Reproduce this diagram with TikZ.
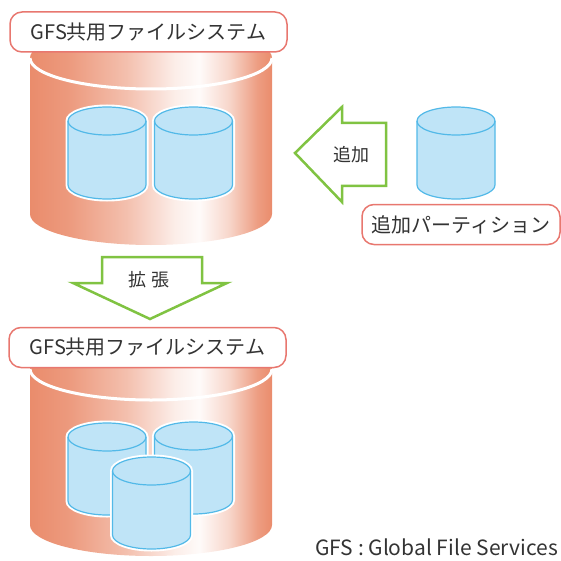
\documentclass[tikz,border=0pt]{standalone}
\usepackage{fontspec}
\setmainfont{Noto Sans CJK JP}
\usepackage{tikz}

\definecolor{fssalmon}{HTML}{EA8C6C}
\definecolor{labelred}{HTML}{E8776F}
\definecolor{arrowgreen}{HTML}{80C342}
\definecolor{diskfill}{HTML}{BFE4F7}
\definecolor{diskline}{HTML}{52B9E8}
\definecolor{textgray}{HTML}{333333}
\colorlet{fsA}{fssalmon!88!white}
\colorlet{fsB}{fssalmon!55!white}
\colorlet{fsC}{fssalmon!15!white}
\colorlet{fsD}{fssalmon!4!white}
\colorlet{fsE}{fssalmon!35!white}
\colorlet{fsF}{fssalmon!85!white}

% body of the file system drum: pale band right of the middle
\pgfdeclarehorizontalshading{fsbody}{100bp}{color(0bp)=(fssalmon); color(25bp)=(fssalmon);
  color(33bp)=(fsA); color(45bp)=(fsB); color(55bp)=(fsC); color(60bp)=(fsD);
  color(66bp)=(fsE); color(72bp)=(fsF); color(75bp)=(fssalmon); color(100bp)=(fssalmon)}

\tikzset{
  % drum outline, centred on the pic origin (y grows downwards)
  fsdrum/.pic={
    \path[shade, shading=fsbody] (-121,-78) -- (-121,78)
      arc[start angle=180, end angle=360, x radius=121pt, y radius=31pt] -- (121,-78)
      arc[start angle=0, end angle=180, x radius=121pt, y radius=31pt] -- cycle;
    \draw[white, line width=3pt] (-121,-78)
      arc[start angle=180, end angle=360, x radius=121pt, y radius=31pt];
  },
  disk/.pic={
    \draw[diskline, fill=diskfill, line width=1.2pt, preaction={draw=white, line width=5pt}]
      (-39,-32) -- (-39,32)
      arc[start angle=180, end angle=360, x radius=39pt, y radius=14pt] -- (39,-32)
      arc[start angle=0, end angle=180, x radius=39pt, y radius=14pt] -- cycle;
    \draw[diskline, line width=1.2pt] (-39,-32)
      arc[start angle=180, end angle=360, x radius=39pt, y radius=14pt];
  }
}

\begin{document}
\begin{tikzpicture}[
  x=1pt, y=-1pt,
  fslabel/.style={draw=labelred, fill=white, line width=1.5pt, rounded corners=12pt,
    minimum width=277pt, minimum height=40pt, font=\fontsize{20}{20}\selectfont, text=textgray},
  blockarrow/.style={draw=arrowgreen, fill=white, line width=2.5pt, line join=miter},
  arrowtext/.style={font=\fontsize{18}{18}\selectfont, text=textgray}
]
  \useasboundingbox (0,0) rectangle (561,561);

  % before
  \pic (fsTop) at (151,136) {fsdrum};
  \pic (diskA) at (107,153) {disk};
  \pic (diskB) at (193.5,153) {disk};
  \node[fslabel] (topLabel) at (148.5,32) {GFS共用ファイルシステム};

  % partition to add
  \pic (newDisk) at (456,153) {disk};
  \node[fslabel, minimum width=198pt] (newLabel) at (461,224.5) {追加パーティション};
  \draw[blockarrow] (295,153) -- (342,107) -- (342,123) -- (386,123) -- (386,186)
    -- (342,186) -- (342,202) -- cycle;
  \node[arrowtext] (addText) at (351,155) {追加};

  \draw[blockarrow] (102,257) -- (202,257) -- (202,283) -- (227,283) -- (150,319)
    -- (73,283) -- (102,283) -- cycle;
  \node[arrowtext] (growText) at (149,280) {拡\hspace{6pt}張};

  % after
  \pic (fsBottom) at (151,447) {fsdrum};
  \pic (diskC) at (107,469) {disk};
  \pic (diskD) at (193.5,468) {disk};
  \pic (diskE) at (151.5,503) {disk};
  \node[fslabel] (bottomLabel) at (147.5,347.5) {GFS共用ファイルシステム};

  \node[anchor=east, inner sep=0pt, font=\fontsize{21}{21}\selectfont, text=textgray]
    (gfsNote) at (558,547) {GFS : Global File Services};
\end{tikzpicture}
\end{document}
